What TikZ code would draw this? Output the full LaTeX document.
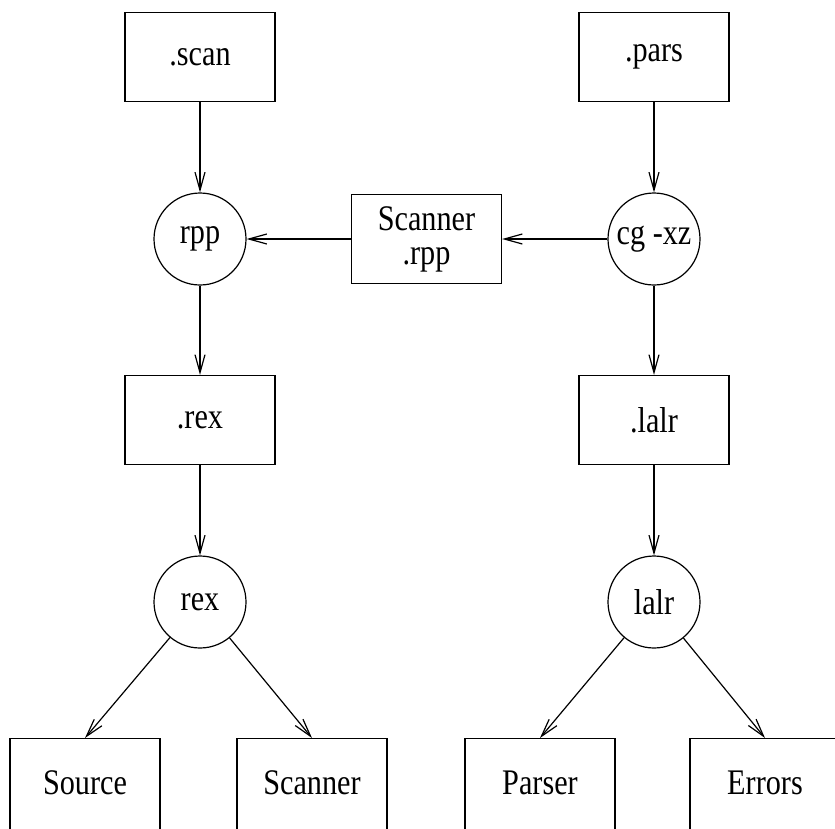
\documentclass[tikz,border=0pt]{standalone}
\usepackage{fontspec}
\setmainfont{Liberation Serif}
\newfontfamily\diafont[FakeStretch=0.84]{Liberation Serif}
\usetikzlibrary{arrows.meta}
\begin{document}
\begin{tikzpicture}[x=1pt,y=-1pt,
  every node/.style={font=\diafont\fontsize{36}{34}\selectfont, line width=1.2pt},
  filebox/.style={draw, rectangle, minimum width=150pt, minimum height=89pt, inner sep=0pt, align=center},
  lowbox/.style={draw, rectangle, minimum width=150pt, minimum height=110pt, inner sep=0pt},
  tool/.style={draw, circle, minimum size=92pt, inner sep=0pt},
  flow/.style={line width=1.2pt, -{Straight Barb[length=18pt,width=10pt,line width=1.2pt]}}]
\useasboundingbox (0,0) rectangle (835,828);
\begin{scope}
\clip (0,0) rectangle (835,828);
\node[filebox] (scan) at (200,57) {.scan};
\node[filebox] (pars) at (654,57) {.pars};
\node[tool] (rpp) at (200,239) {rpp};
\node[tool] (cg) at (654,239) {cg -xz};
\node[filebox] (srpp) at (426.5,239) {Scanner\\.rpp};
\node[filebox] (rexf) at (200,420) {.rex};
\node[filebox] (lalrf) at (654,420) {.lalr};
\node[tool] (rex) at (200,602) {rex};
\node[tool] (lalr) at (654,602) {lalr};
\node[lowbox, anchor=north] (source) at (85,738) {};
\node[lowbox, anchor=north] (scanner) at (312,738) {};
\node[lowbox, anchor=north] (parser) at (540,738) {};
\node[lowbox, anchor=north] (errors) at (765,738) {};
\node (sourcet) at (85,782.5) {Source};
\node (scannert) at (312,782.5) {Scanner};
\node (parsert) at (540,782.5) {Parser};
\node (errorst) at (765,782.5) {Errors};
\end{scope}
\draw[flow] (scan) -- (rpp);
\draw[flow] (pars) -- (cg);
\draw[flow] (cg) -- (srpp);
\draw[flow] (srpp) -- (rpp);
\draw[flow] (rpp) -- (rexf);
\draw[flow] (cg) -- (lalrf);
\draw[flow] (rexf) -- (rex);
\draw[flow] (lalrf) -- (lalr);
\draw[flow] (rex) -- (source.north);
\draw[flow] (rex) -- (scanner.north);
\draw[flow] (lalr) -- (parser.north);
\draw[flow] (lalr) -- (errors.north);
\end{tikzpicture}
\end{document}
